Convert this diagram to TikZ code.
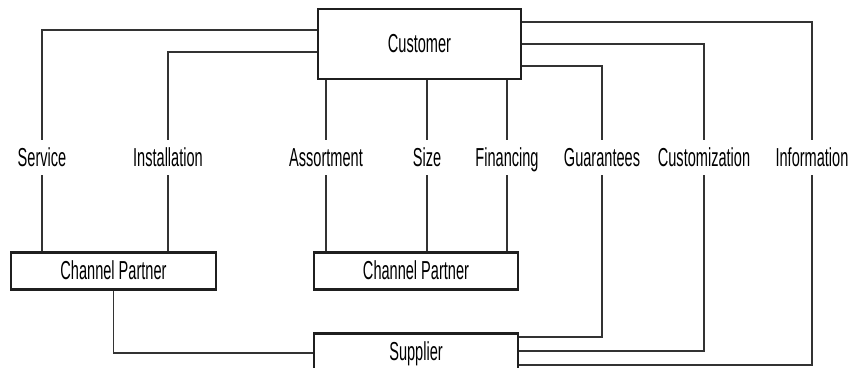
\documentclass[tikz,border=0pt]{standalone}
\usepackage{fontspec}
\setmainfont{Liberation Sans}[FakeStretch=0.56]
\begin{document}
\begin{tikzpicture}[x=1pt,y=-1pt,
  box/.style={draw=black!88,line width=2.6pt,fill=white,inner sep=0pt,
    text height=22pt,text depth=4.4pt,font=\fontsize{26}{30}\selectfont},
  lbl/.style={inner sep=0pt,minimum height=35pt,text height=22pt,text depth=4.4pt,
    font=\fontsize{26}{30}\selectfont},
  conn/.style={draw=black!80,line width=1.3pt}]
\useasboundingbox (0,0) rectangle (859,367);
% boxes
\node[box,minimum width=203pt,minimum height=70pt] (cust) at (419.5,44) {Customer};
\node[box,minimum width=205pt,minimum height=37pt] (cp1) at (113.5,271) {Channel Partner};
\node[box,minimum width=204pt,minimum height=37pt] (cp2) at (416,271) {Channel Partner};
\node[box,minimum width=204pt,minimum height=37pt] (sup) at (416,352) {Supplier};
% labels
\node[lbl] (svc) at (42,157.5) {Service};
\node[lbl] (ins) at (168,157.5) {Installation};
\node[lbl] (ass) at (326,157.5) {Assortment};
\node[lbl] (siz) at (427,157.5) {Size};
\node[lbl] (fin) at (507,157.5) {Financing};
\node[lbl] (gua) at (602,157.5) {Guarantees};
\node[lbl] (cus) at (704,157.5) {Customization};
\node[lbl] (inf) at (812,157.5) {Information};
% level coordinates
\coordinate (ySvc) at (0,30);
\coordinate (yIns) at (0,52);
\coordinate (yInf) at (0,22);
\coordinate (yCus) at (0,44);
\coordinate (yGua) at (0,66);
\coordinate (yGuaS) at (0,337);
\coordinate (yCusS) at (0,351);
\coordinate (yInfS) at (0,365);
\coordinate (yCp) at (0,353);
% connectors
\draw[conn] (cust.west |- ySvc) -| (svc.north);
\draw[conn] (svc.south) -- (svc.south |- cp1.north);
\draw[conn] (cust.west |- yIns) -| (ins.north);
\draw[conn] (ins.south) -- (ins.south |- cp1.north);
\draw[conn] (ass.north |- cust.south) -- (ass.north);
\draw[conn] (ass.south) -- (ass.south |- cp2.north);
\draw[conn] (siz.north |- cust.south) -- (siz.north);
\draw[conn] (siz.south) -- (siz.south |- cp2.north);
\draw[conn] (fin.north |- cust.south) -- (fin.north);
\draw[conn] (fin.south) -- (fin.south |- cp2.north);
\draw[conn] (cust.east |- yGua) -| (gua.north);
\draw[conn] (gua.south) |- (sup.east |- yGuaS);
\draw[conn] (cust.east |- yCus) -| (cus.north);
\draw[conn] (cus.south) |- (sup.east |- yCusS);
\draw[conn] (cust.east |- yInf) -| (inf.north);
\draw[conn] (inf.south) |- (sup.east |- yInfS);
\draw[conn] (cp1.south) |- (sup.west |- yCp);
\end{tikzpicture}
\end{document}
